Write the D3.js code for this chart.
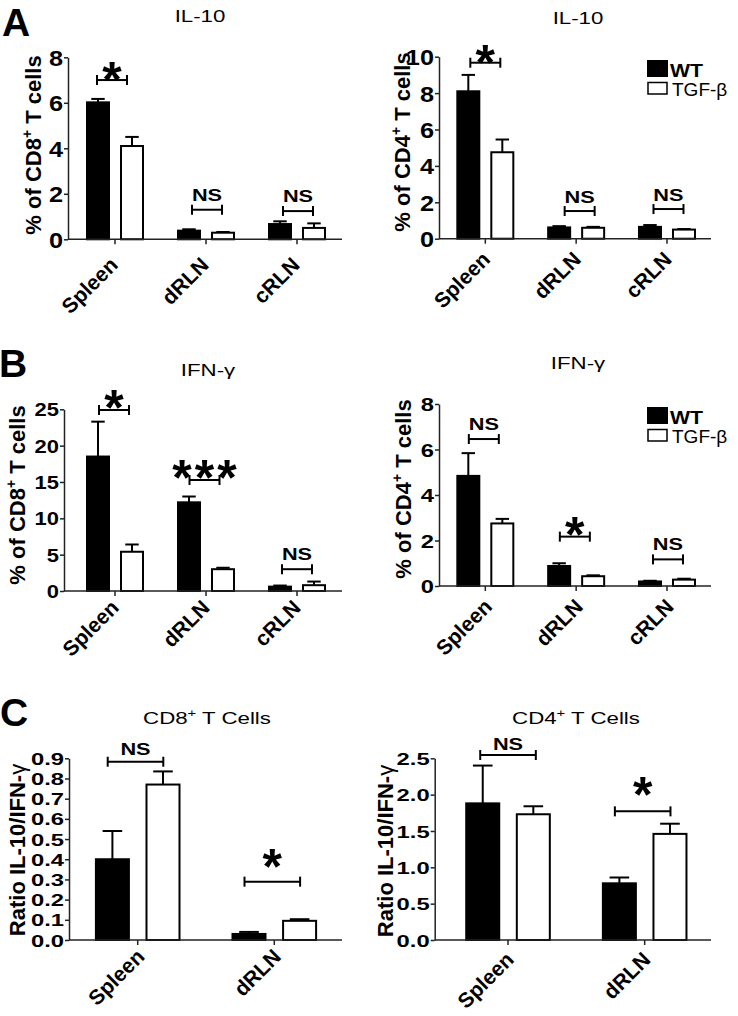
<!DOCTYPE html>
<html><head><meta charset="utf-8">
<script src="https://cdn.jsdelivr.net/npm/d3@7"></script>
<style>
body{margin:0;background:#fff}
svg text{font-family:"Liberation Sans",Arial,Helvetica,sans-serif;fill:#000}
</style>
</head><body>
<svg id="chart" width="738" height="1016"></svg>
<script>
// ---------------- data ----------------
const series = ["WT", "TGF-β"];
const groups3 = ["Spleen", "dRLN", "cRLN"];
const groups2 = ["Spleen", "dRLN"];

// A: IL-10, % of CD8+ T cells
const il10CD8_WT = [6.02, 0.38, 0.67];
const il10CD8_WT_sem = [0.15, 0.06, 0.12];
const il10CD8_TGF = [4.1, 0.29, 0.5];
const il10CD8_TGF_sem = [0.4, 0.03, 0.2];
const il10CD8_sig = ["*", "NS", "NS"];
const il10CD8_ticks = [0, 2, 4, 6, 8];

// A: IL-10, % of CD4+ T cells
const il10CD4_WT = [8.1, 0.62, 0.65];
const il10CD4_WT_sem = [0.9, 0.07, 0.1];
const il10CD4_TGF = [4.75, 0.6, 0.5];
const il10CD4_TGF_sem = [0.7, 0.05, 0.03];
const il10CD4_sig = ["*", "NS", "NS"];
const il10CD4_ticks = [0, 2, 4, 6, 8, 10];

// B: IFN-γ, % of CD8+ T cells
const ifnCD8_WT = [18.5, 12.2, 0.6];
const ifnCD8_WT_sem = [4.8, 0.8, 0.15];
const ifnCD8_TGF = [5.4, 3.0, 0.8];
const ifnCD8_TGF_sem = [1.0, 0.2, 0.5];
const ifnCD8_sig = ["*", "***", "NS"];
const ifnCD8_ticks = [0, 5, 10, 15, 20, 25];

// B: IFN-γ, % of CD4+ T cells
const ifnCD4_WT = [4.84, 0.88, 0.2];
const ifnCD4_WT_sem = [1.0, 0.12, 0.03];
const ifnCD4_TGF = [2.75, 0.43, 0.28];
const ifnCD4_TGF_sem = [0.2, 0.04, 0.04];
const ifnCD4_sig = ["NS", "*", "NS"];
const ifnCD4_ticks = [0, 2, 4, 6, 8];

// C: Ratio IL-10/IFN-γ, CD8+ T cells
const ratioCD8_WT = [0.40, 0.03];
const ratioCD8_WT_sem = [0.14, 0.01];
const ratioCD8_TGF = [0.77, 0.095];
const ratioCD8_TGF_sem = [0.065, 0.008];
const ratioCD8_sig = ["NS", "*"];
const ratioCD8_ticks = [0, 0.1, 0.2, 0.3, 0.4, 0.5, 0.6, 0.7, 0.8, 0.9];

// C: Ratio IL-10/IFN-γ, CD4+ T cells
const ratioCD4_WT = [1.88, 0.78];
const ratioCD4_WT_sem = [0.52, 0.08];
const ratioCD4_TGF = [1.73, 1.46];
const ratioCD4_TGF_sem = [0.11, 0.14];
const ratioCD4_sig = ["NS", "*"];
const ratioCD4_ticks = [0, 0.5, 1.0, 1.5, 2.0, 2.5];

// significance bracket heights (data units)
const il10CD8_sigY = [7.0, 1.3, 1.24];
const il10CD4_sigY = [9.67, 1.52, 1.63];
const ifnCD8_sigY = [24.9, 15.27, 3.0];
const ifnCD4_sigY = [6.46, 2.17, 1.17];
const ratioCD8_sigY = [0.883, 0.289];
const ratioCD4_sigY = [2.545, 1.77];

// ---------------- drawing ----------------
const svg = d3.select("#chart");
const FONT = '"Liberation Sans",Arial,Helvetica,sans-serif';

const panels = [
  {title: "IL-10", groups: groups3, means: [il10CD8_WT, il10CD8_TGF], sems: [il10CD8_WT_sem, il10CD8_TGF_sem],
   sig: il10CD8_sig, sigY: il10CD8_sigY, ticks: il10CD8_ticks, fmt: d3.format("d"), ylab: "CD8", yLabKind: "pct",
   L: {y0: 239.3, y1: 57.3, ax: 68, axEnd: 342, band: [69.5, 342.5], pair: 58, pad: 0.294,
       tickF: 22, tickSx: 1.15, xl: [4, 27],
       sigDx: [-3, 1, 1], sigW: 30, nsGap: 9, starGap: 3, tx: 200, ty: 22, labX: 41, labY: 145, legend: null}},
  {title: "IL-10", groups: groups3, means: [il10CD4_WT, il10CD4_TGF], sems: [il10CD4_WT_sem, il10CD4_TGF_sem],
   sig: il10CD4_sig, sigY: il10CD4_sigY, ticks: il10CD4_ticks, fmt: d3.format("d"), ylab: "CD4", yLabKind: "pct",
   L: {y0: 238.7, y1: 56.7, ax: 439, axEnd: 711, band: [439.9, 712.4], pair: 58, pad: 0.294,
       tickF: 22, tickSx: 1.15, xl: [6, 22],
       sigDx: [0, 3.5, 1.5], sigW: 30, nsGap: 8, starGap: 3, tx: 578, ty: 24, labX: 410, labY: 142, legend: [647, 60]}},
  {title: "IFN-γ", groups: groups3, means: [ifnCD8_WT, ifnCD8_TGF], sems: [ifnCD8_WT_sem, ifnCD8_TGF_sem],
   sig: ifnCD8_sig, sigY: ifnCD8_sigY, ticks: ifnCD8_ticks, fmt: d3.format("d"), ylab: "CD8", yLabKind: "pct",
   L: {y0: 591, y1: 409.3, ax: 64, axEnd: 342, band: [69.5, 342.5], pair: 58, pad: 0.294,
       tickF: 18, tickSx: 1.22, xl: [5, 18],
       sigDx: [-1, -1.5, 0], sigW: 30, nsGap: 9, starGap: 5, tx: 208, ty: 376, labX: 25, labY: 495, legend: null}},
  {title: "IFN-γ", groups: groups3, means: [ifnCD4_WT, ifnCD4_TGF], sems: [ifnCD4_WT_sem, ifnCD4_TGF_sem],
   sig: ifnCD4_sig, sigY: ifnCD4_sigY, ticks: ifnCD4_ticks, fmt: d3.format("d"), ylab: "CD4", yLabKind: "pct",
   L: {y0: 586, y1: 404, ax: 439, axEnd: 711, band: [439.9, 712.4], pair: 58, pad: 0.294,
       tickF: 19, tickSx: 1.25, xl: [8, 22],
       sigDx: [-1.5, -1.3, 1], sigW: 30, nsGap: 9, starGap: 5, tx: 578, ty: 369, labX: 411, labY: 489, legend: [647, 407]}},
  {title: "CD8", groups: groups2, means: [ratioCD8_WT, ratioCD8_TGF], sems: [ratioCD8_WT_sem, ratioCD8_TGF_sem],
   sig: ratioCD8_sig, sigY: ratioCD8_sigY, ticks: ratioCD8_ticks, fmt: d3.format(".1f"), ylab: "ratio", yLabKind: "ratio",
   L: {y0: 940, y1: 758.3, ax: 69, axEnd: 342, band: [69.4, 342.6], pair: 85.6, pad: 0.308,
       tickF: 17, tickSx: 1.4, xl: [8, 18],
       sigDx: [-2.2, -2], sigW: 55.6, nsGap: 7, starGap: 18, tx: 207, ty: 724, labX: 25, labY: 850, legend: null}},
  {title: "CD4", groups: groups2, means: [ratioCD4_WT, ratioCD4_TGF], sems: [ratioCD4_WT_sem, ratioCD4_TGF_sem],
   sig: ratioCD4_sig, sigY: ratioCD4_sigY, ticks: ratioCD4_ticks, fmt: d3.format(".1f"), ylab: "ratio", yLabKind: "ratio",
   L: {y0: 940, y1: 758.3, ax: 434.7, axEnd: 711, band: [439.7, 713], pair: 85.6, pad: 0.308,
       tickF: 17, tickSx: 1.4, xl: [7, 21],
       sigDx: [0, -2], sigW: 55.6, nsGap: 5, starGap: 19, tx: 576, ty: 724, labX: 393, labY: 851, legend: null}}
];

const fills = ["#000", "#fff"];
const STAR_F = 50;

// horizontally stretched text helper
function stext(parent, x, y, sx) {
  return parent.append("text").attr("transform", `translate(${x},${y}) scale(${sx},1)`);
}

panels.forEach(p => {
  const L = p.L;
  const g = svg.append("g");
  const ymax = p.ticks[p.ticks.length - 1];
  const y = d3.scaleLinear().domain([0, ymax]).range([L.y0, L.y1]);
  const x0 = d3.scaleBand().domain(p.groups).range(L.band);
  const x1 = d3.scaleBand().domain(series).range([-L.pair / 2, L.pair / 2]).paddingInner(L.pad);
  const cx = d => x0(d) + x0.bandwidth() / 2;
  const bw = x1.bandwidth();

  const rows = [];
  p.groups.forEach((grp, i) => series.forEach((s, j) => rows.push({grp, s, j, v: p.means[j][i], e: p.sems[j][i]})));

  // error bars (upper only)
  const eb = g.append("g").attr("stroke", "#000").attr("stroke-width", 2);
  rows.forEach(r => {
    const xc = cx(r.grp) + x1(r.s) + bw / 2;
    eb.append("line").attr("x1", xc).attr("x2", xc).attr("y1", y(r.v)).attr("y2", y(r.v + r.e));
    eb.append("line").attr("x1", xc - bw * 0.28).attr("x2", xc + bw * 0.28).attr("y1", y(r.v + r.e)).attr("y2", y(r.v + r.e));
  });

  // bars
  g.append("g").selectAll("rect").data(rows).join("rect")
    .attr("x", r => cx(r.grp) + x1(r.s) + 1)
    .attr("width", bw - 2)
    .attr("y", r => y(r.v))
    .attr("height", r => y(0) - y(r.v))
    .attr("fill", r => fills[r.j])
    .attr("stroke", "#000").attr("stroke-width", 2);

  // y axis
  const ya = g.append("g").attr("transform", `translate(${L.ax},0)`)
    .call(d3.axisLeft(y).tickValues(p.ticks).tickFormat(p.fmt).tickSize(4).tickSizeOuter(0));
  ya.select(".domain").attr("stroke", "#222").attr("stroke-width", 1.5);
  ya.selectAll(".tick line").attr("stroke", "#222").attr("stroke-width", 1.5);
  ya.selectAll("text").attr("font-family", FONT).attr("font-size", L.tickF).attr("font-weight", "bold")
    .attr("fill", "#000").attr("x", 0).attr("dy", "0.36em").attr("text-anchor", "end")
    .attr("transform", `translate(-5,0) scale(${L.tickSx},1)`);

  // x axis line
  g.append("line").attr("x1", L.ax).attr("x2", L.axEnd).attr("y1", L.y0).attr("y2", L.y0)
    .attr("stroke", "#222").attr("stroke-width", 1.5);
  const xa = g.append("g").attr("transform", `translate(0,${L.y0})`)
    .call(d3.axisBottom(x0).tickSize(5).tickSizeOuter(0));
  xa.select(".domain").remove();
  xa.selectAll(".tick line").attr("stroke", "#222").attr("stroke-width", 1.5);
  xa.selectAll("text")
    .attr("font-family", FONT).attr("font-size", 21).attr("font-weight", "bold").attr("fill", "#000")
    .attr("text-anchor", "end").attr("x", 0).attr("y", 0).attr("dy", 0)
    .attr("transform", `translate(${L.xl[0]},${L.xl[1]}) rotate(-45)`);

  // significance brackets
  p.sig.forEach((lab, i) => {
    const grp = p.groups[i];
    const c = cx(grp) + L.sigDx[i];
    const yy = y(p.sigY[i]);
    const a = c - L.sigW / 2, b = c + L.sigW / 2;
    const sg = g.append("g").attr("stroke", "#000").attr("stroke-width", 2);
    sg.append("line").attr("x1", a).attr("x2", b).attr("y1", yy).attr("y2", yy);
    sg.append("line").attr("x1", a).attr("x2", a).attr("y1", yy - 5).attr("y2", yy + 5);
    sg.append("line").attr("x1", b).attr("x2", b).attr("y1", yy - 5).attr("y2", yy + 5);
    if (lab === "NS") {
      stext(g, c, yy - L.nsGap, 1.28).attr("text-anchor", "middle")
        .attr("font-size", 17).attr("font-weight", "bold").text(lab);
    } else {
      const ls = lab.length > 1 ? 3 : 0;
      g.append("text").attr("x", c + ls / 2).attr("y", yy - L.starGap + STAR_F * 0.40).attr("text-anchor", "middle")
        .attr("font-size", STAR_F).attr("font-weight", "bold").attr("letter-spacing", ls).text(lab);
    }
  });

  // title (stretched)
  const t = stext(g, L.tx, L.ty, 1.35).attr("text-anchor", "middle").attr("font-size", 16.5);
  if (p.title === "CD8" || p.title === "CD4") {
    t.append("tspan").text(p.title);
    t.append("tspan").attr("font-size", 11).attr("dy", -7).text("+");
    t.append("tspan").attr("dy", 7).text(" T Cells");
  } else t.text(p.title);

  // y label
  const yl = g.append("text").attr("transform", `translate(${L.labX},${L.labY}) rotate(-90)`)
    .attr("text-anchor", "middle").attr("font-size", 22).attr("font-weight", "bold");
  if (p.yLabKind === "pct") {
    yl.append("tspan").text("% of " + p.ylab);
    yl.append("tspan").attr("font-size", 14).attr("dy", -9).text("+");
    yl.append("tspan").attr("dy", 9).text(" T cells");
  } else {
    yl.append("tspan").text("Ratio IL-10/IFN-");
    yl.append("tspan").attr("font-weight", "normal").text("γ");
  }

  // legend
  if (L.legend) {
    const [lx, ly] = L.legend;
    const lg = g.append("g");
    lg.append("rect").attr("x", lx + 1).attr("y", ly + 1).attr("width", 19).attr("height", 15)
      .attr("fill", "#000").attr("stroke", "#000").attr("stroke-width", 2);
    lg.append("rect").attr("x", lx + 1).attr("y", ly + 22.5).attr("width", 19).attr("height", 11.5)
      .attr("fill", "#fff").attr("stroke", "#000").attr("stroke-width", 1.5);
    stext(lg, lx + 23, ly + 17, 1.18).attr("font-size", 18).attr("font-weight", "bold").text(series[0]);
    lg.append("text").attr("x", lx + 25).attr("y", ly + 36).attr("font-size", 19).text(series[1]);
  }
});

// panel letters
[["A", 2, 36], ["B", -1, 377], ["C", 0, 726]].forEach(([s, x, yy]) =>
  svg.append("text").attr("x", x).attr("y", yy).attr("font-size", 39).attr("font-weight", "bold").text(s));
</script>
</body></html>
